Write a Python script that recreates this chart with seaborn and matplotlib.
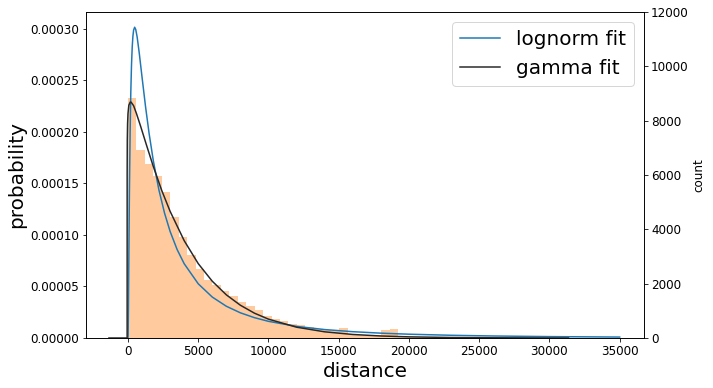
import numpy as np
import pandas as pd
import matplotlib
matplotlib.use("Agg")
import matplotlib.pyplot as plt
import seaborn as sns

# =========================
# valores
# =========================
bin_width = 601
bin_heights = [
    2.33e-4, 1.828e-4, 1.692e-4, 1.576e-4, 1.42e-4, 1.178e-4, 9.84e-5, 8.09e-5,
    6.73e-5, 5.66e-5, 5.11e-5, 4.52e-5, 4.11e-5, 3.46e-5, 3.14e-5, 2.75e-5,
    2.17e-5, 1.87e-5, 1.61e-5, 1.39e-5, 1.22e-5, 1.05e-5, 9.0e-6, 7.5e-6,
    6.8e-6, 1.0e-5, 3.4e-6, 3.0e-6, 2.8e-6, 2.5e-6, 8.0e-6, 9.2e-6,
    1.6e-6, 1.4e-6, 1.3e-6, 1.2e-6, 1.1e-6, 1.0e-6, 9e-7, 8e-7,
    7e-7, 7e-7, 6e-7, 5e-7, 5e-7, 4e-7, 4e-7, 3e-7, 3e-7, 2e-7,
]

lognorm_x = [0, 10, 30, 60, 100, 150, 200, 250, 300, 350, 400, 474, 550, 650,
             800, 1000, 1250, 1500, 1800, 2200, 2600, 3000, 3500, 4000, 5000,
             6000, 7000, 8000, 9000, 10000, 12000, 14000, 16000, 18000, 20000,
             23000, 26000, 30000, 35000]
lognorm_y = [0, 2.8e-6, 2.73e-5, 7.84e-5, 1.405e-4, 1.986e-4, 2.385e-4, 2.651e-4,
             2.823e-4, 2.930e-4, 2.989e-4, 3.017e-4, 2.996e-4, 2.924e-4,
             2.768e-4, 2.532e-4, 2.245e-4, 1.988e-4, 1.7235e-4, 1.438e-4,
             1.213e-4, 1.0338e-4, 8.579e-5, 7.211e-5, 5.261e-5, 3.973e-5,
             3.082e-5, 2.444e-5, 1.973e-5, 1.6176e-5, 1.128e-5, 8.18e-6,
             6.12e-6, 4.69e-6, 3.67e-6, 2.63e-6, 1.94e-6, 1.34e-6, 8.9e-7]

gamma_x = [-1357, -61, -59, -50, -30, 0, 60, 160, 220, 400, 600, 900, 1300,
           1800, 2400, 3000, 4000, 5000, 6000, 7000, 8000, 9000, 10000, 12000,
           14000, 16000, 18000, 20000, 23000, 26000, 31357]
gamma_y = [0, 0, 1.60e-4, 1.92e-4, 2.08e-4, 2.18e-4, 2.26e-4, 2.29e-4,
           2.29e-4, 2.255e-4, 2.18e-4, 2.055e-4, 1.88e-4, 1.666e-4, 1.433e-4,
           1.229e-4, 9.45e-5, 7.22e-5, 5.51e-5, 4.19e-5, 3.18e-5, 2.41e-5,
           1.83e-5, 1.048e-5, 5.99e-6, 3.42e-6, 1.95e-6, 1.11e-6, 4.8e-7,
           2.0e-7, 0]

edges = [i * bin_width for i in range(len(bin_heights) + 1)]
centers = [(a + b) / 2 for a, b in zip(edges[:-1], edges[1:])]
hist_df = pd.DataFrame({"distance": centers, "density": bin_heights})

# ----------------------------
# figura
# ----------------------------
fig, ax = plt.subplots(figsize=(713 / 72, 388 / 72), dpi=72)
fig.subplots_adjust(left=0.1206, right=0.9032, bottom=0.1289, top=0.9691)

sns.histplot(data=hist_df, x="distance", weights="density", bins=edges,
             element="step", fill=True, color="C1", alpha=0.4, linewidth=0,
             ax=ax)
sns.lineplot(x=lognorm_x, y=lognorm_y, color="C0", linewidth=1.5,
             sort=False, estimator=None, label="lognorm fit", ax=ax)
sns.lineplot(x=gamma_x, y=gamma_y, color="#282828", linewidth=1.5,
             sort=False, estimator=None, label="gamma fit", ax=ax)

ax.set_xlim(-2990, 36730)
ax.set_ylim(0, 0.0003165)
ax.set_yticks(np.arange(0, 0.00031, 0.00005))
ax.set_xticks(np.arange(0, 35001, 5000))
ax.set_xlabel("distance", fontsize=20)
ax.set_ylabel("probability", fontsize=20)
ax.tick_params(axis="both", labelsize=12)
ax.legend(loc="upper right", fontsize=20)

ax2 = ax.twinx()
ax2.set_ylim(0, 12000)
ax2.set_yticks(np.arange(0, 12001, 2000))
ax2.tick_params(axis="y", labelsize=12)
ax2.set_ylabel("count", fontsize=12)

fig.savefig("out.png", dpi=72)
